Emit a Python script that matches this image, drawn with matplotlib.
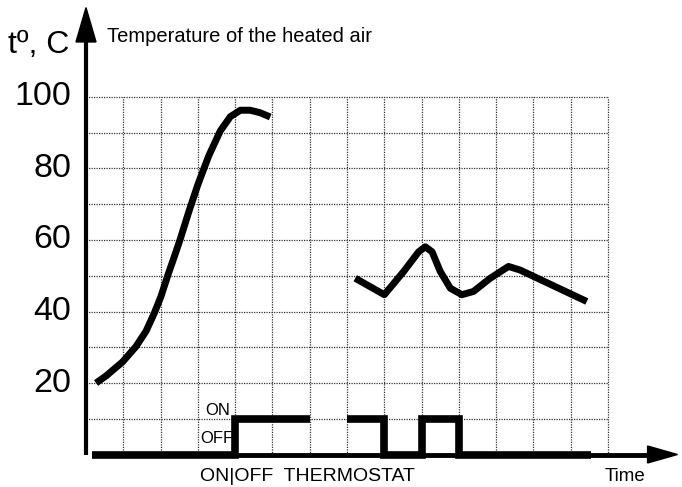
import matplotlib.pyplot as plt
from matplotlib.patches import Polygon

plt.rcParams['font.family'] = ['Liberation Sans', 'DejaVu Sans']

# temperature of the heated air: first heating run and later cycling phase
heat_t = [0.27, 0.54, 0.98, 1.34, 1.61, 1.83, 2.01, 2.19, 2.37, 2.52, 2.76, 3.0,
          3.29, 3.6, 3.87, 4.14, 4.4, 4.67, 4.94]
heat_temp = [20.0, 22.0, 25.9, 30.2, 34.5, 39.5, 44.2, 50.0, 55.4, 60.0, 68.0, 75.5,
             83.5, 90.5, 94.5, 96.3, 96.3, 95.6, 94.4]

cycle_t = [7.22, 8.0, 8.52, 8.92, 9.1, 9.28, 9.5, 9.77, 10.08, 10.39, 10.84,
           11.33, 11.64, 13.43]
cycle_temp = [49.3, 44.7, 51.2, 56.7, 58.1, 56.7, 51.2, 46.5, 44.7, 45.6, 49.3,
              52.6, 51.6, 42.8]

# thermostat state (0 = OFF, 10 = ON)
thermo1_t = [0.16, 4, 4, 6]
thermo1_v = [0, 0, 10, 10]
thermo2_t = [7, 8, 8, 9, 9, 10, 10, 13.55]
thermo2_v = [10, 10, 0, 0, 10, 10, 0, 0]

y_ticks = [20, 40, 60, 80, 100]
n_cols = 14

# pixel scale of the drawing
px_x = 37.29
px_y = 3.575
W, H = 682, 487
x0_px, y0_px = 86, 454.5

fig = plt.figure(figsize=(W / 100, H / 100), dpi=100)
ax = fig.add_axes([0, 0, 1, 1])
ax.set_xlim(-x0_px / px_x, (W - x0_px) / px_x)
ax.set_ylim(-(H - y0_px) / px_y, y0_px / px_y)
ax.axis('off')

# dotted grid
grid_kw = dict(color='#333333', lw=0.9, linestyle=(0, (1, 1)), zorder=1)
ax.hlines(range(10, 101, 10), 0, n_cols, **grid_kw)
ax.vlines(range(1, n_cols + 1), 0, 100, **grid_kw)

# axes with arrow heads
ax.plot([0, 0], [0, 116], color='black', lw=3, solid_capstyle='butt', zorder=3)
ax.add_patch(Polygon([[-10 / px_x, 115.4], [10 / px_x, 115.4], [0, 125]],
                     closed=True, color='black', zorder=3))
ax.plot([0.16, 15.2], [0, 0], color='black', lw=3.5, solid_capstyle='butt', zorder=3)
ax.add_patch(Polygon([[15.06, -8.5 / px_y], [15.06, 8.5 / px_y], [15.86, 0]],
                     closed=True, color='black', zorder=3))

# temperature curves
line_kw = dict(color='black', lw=5, solid_capstyle='butt', solid_joinstyle='round', zorder=4)
ax.plot(heat_t, heat_temp, **line_kw)
ax.plot(cycle_t, cycle_temp, **line_kw)

# thermostat signal
therm_kw = dict(color='black', lw=5.5, solid_capstyle='butt', solid_joinstyle='miter', zorder=4)
ax.plot(thermo1_t, thermo1_v, **therm_kw)
ax.plot(thermo2_t, thermo2_v, **therm_kw)

# labels
for v in y_ticks:
    ax.text(-15 / px_x, v, str(v), ha='right', va='center', fontsize=24.5)

ax.text(-78 / px_x, 112.3, 'tº, C', ha='left', va='baseline', fontsize=23)
ax.text(21 / px_x, 115.4, 'Temperature of the heated air', ha='left', va='baseline', fontsize=14.5)
ax.text(3.2, 11.0, 'ON', ha='left', va='baseline', fontsize=12)
ax.text(3.07, 3.1, 'OFF', ha='left', va='baseline', fontsize=12)
ax.text(3.07, -7.4, 'ON|OFF  THERMOSTAT', ha='left', va='baseline', fontsize=14)
ax.text(13.92, -7.4, 'Time', ha='left', va='baseline', fontsize=13.5)

fig.savefig('out.png', dpi=100)
